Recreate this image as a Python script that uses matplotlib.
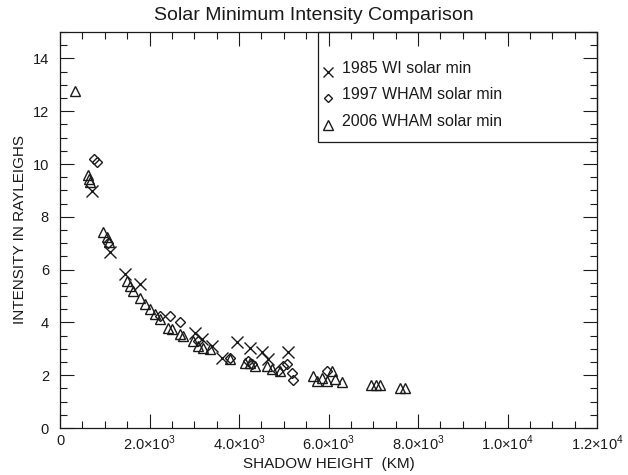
import matplotlib
matplotlib.use("Agg")
import matplotlib.pyplot as plt
from matplotlib.patches import Rectangle
from matplotlib.ticker import MultipleLocator, FixedLocator

# shadow height (km) and intensity (R) for each solar-minimum campaign
wi1985_x = [716, 1118, 1453, 1788, 3017, 3174, 3397, 3620, 3956, 4250, 4515, 4650, 5100]
wi1985_y = [8.98, 6.65, 5.85, 5.46, 3.6, 3.38, 3.12, 2.67, 3.25, 3.04, 2.86, 2.63, 2.86]

wham1997_x = [760, 828, 1074, 2235, 2459, 2682, 3084, 3800, 4200, 4290, 4870,
              4990, 5080, 5190, 5210, 5970]
wham1997_y = [10.2, 10.08, 7.02, 4.24, 4.24, 4.02, 3.3, 2.67, 2.55, 2.43, 2.17,
              2.35, 2.43, 2.1, 1.8, 2.15]

wham2006_x = [335, 626, 648, 670, 961, 1050, 1095, 1497, 1565, 1631, 1788, 1900,
              2011, 2123, 2235, 2414, 2503, 2682, 2749, 2973, 3084, 3196, 3352,
              3800, 4135, 4250, 4360, 4630, 4740, 4920, 5650, 5740, 5860, 5970,
              6080, 6150, 6300, 6950, 7060, 7150, 7600, 7720]
wham2006_y = [12.75, 9.6, 9.42, 9.3, 7.42, 7.23, 7.04, 5.58, 5.38, 5.19, 4.92, 4.7,
              4.52, 4.33, 4.12, 3.8, 3.76, 3.57, 3.5, 3.31, 3.12, 3.04, 3.0,
              2.63, 2.47, 2.47, 2.35, 2.35, 2.24, 2.17, 1.97, 1.79, 1.9, 1.79,
              2.17, 1.86, 1.75, 1.64, 1.64, 1.64, 1.5, 1.5]

legend_labels = ["1985 WI solar min", "1997 WHAM solar min", "2006 WHAM solar min"]
xtick_vals = [0, 2000, 4000, 6000, 8000, 10000, 12000]
xtick_text = ["0", r"2.0$\times$10$^3$", r"4.0$\times$10$^3$", r"6.0$\times$10$^3$",
              r"8.0$\times$10$^3$", r"1.0$\times$10$^4$", r"1.2$\times$10$^4$"]

plt.rcParams['font.family'] = ['Liberation Sans', 'DejaVu Sans']
plt.rcParams['mathtext.fontset'] = 'custom'
plt.rcParams['mathtext.rm'] = 'Liberation Sans'
ink = '#1a1a1a'

fig = plt.figure(figsize=(6.28, 4.75), dpi=100)
ax = fig.add_axes([60/628, 1 - 428/475, 537/628, 396/475])

ax.plot(wi1985_x, wi1985_y, ls='none', marker='x', ms=8, mew=1.0, color=ink)
ax.plot(wham1997_x, wham1997_y, ls='none', marker='D', ms=5.5, mew=1.0,
        mfc='none', mec=ink)
ax.plot(wham2006_x, wham2006_y, ls='none', marker='^', ms=7.5, mew=1.0,
        mfc='none', mec=ink)

ax.set_xlim(0, 12000)
ax.set_ylim(0, 15)
ax.xaxis.set_major_locator(FixedLocator(xtick_vals))
ax.set_xticklabels(xtick_text)
ax.xaxis.set_minor_locator(MultipleLocator(500))
ax.yaxis.set_major_locator(MultipleLocator(2))
ax.yaxis.set_minor_locator(MultipleLocator(0.5))
ax.tick_params(which='both', direction='in', top=True, right=True, color=ink,
               width=0.8, labelsize=10.5, labelcolor=ink)
ax.tick_params(which='major', length=10, pad=8)
ax.tick_params(axis='x', which='major', pad=4)
ax.tick_params(which='minor', length=5)
for s in ax.spines.values():
    s.set_color(ink)
    s.set_linewidth(0.9)

# title is centred on the page, not on the axes
fig.text(0.5, 1 - 15/475, "Solar Minimum Intensity Comparison", fontsize=14,
         color=ink, ha='center', va='center')
ax.set_xlabel("SHADOW HEIGHT  (KM)", fontsize=11, color=ink, labelpad=3)
ax.set_ylabel("INTENSITY IN RAYLEIGHS", fontsize=11, color=ink, labelpad=4)

# legend box in the upper right corner
bx0 = (318 - 60) / 537
by0 = 1 - (142 - 32) / 396
ax.add_patch(Rectangle((bx0, by0), 1 - bx0, 1 - by0, transform=ax.transAxes,
                       fill=False, ec=ink, lw=0.9, clip_on=False))
rows = [(72, 'x'), (98, 'D'), (125, '^')]
for (py, mk), lab in zip(rows, legend_labels):
    yy = 1 - (py - 32) / 396
    ax.plot([(328 - 60) / 537], [yy], transform=ax.transAxes, ls='none',
            marker=mk, ms={'x': 7, 'D': 4.5, '^': 6.5}[mk], mew=1.0,
            mfc='none', mec=ink, color=ink, clip_on=False)
    ax.text((342 - 60) / 537, yy + 0.008, lab, transform=ax.transAxes,
            fontsize=11.5, color=ink, va='center', ha='left')

fig.savefig("out.png", dpi=100, facecolor='white')
